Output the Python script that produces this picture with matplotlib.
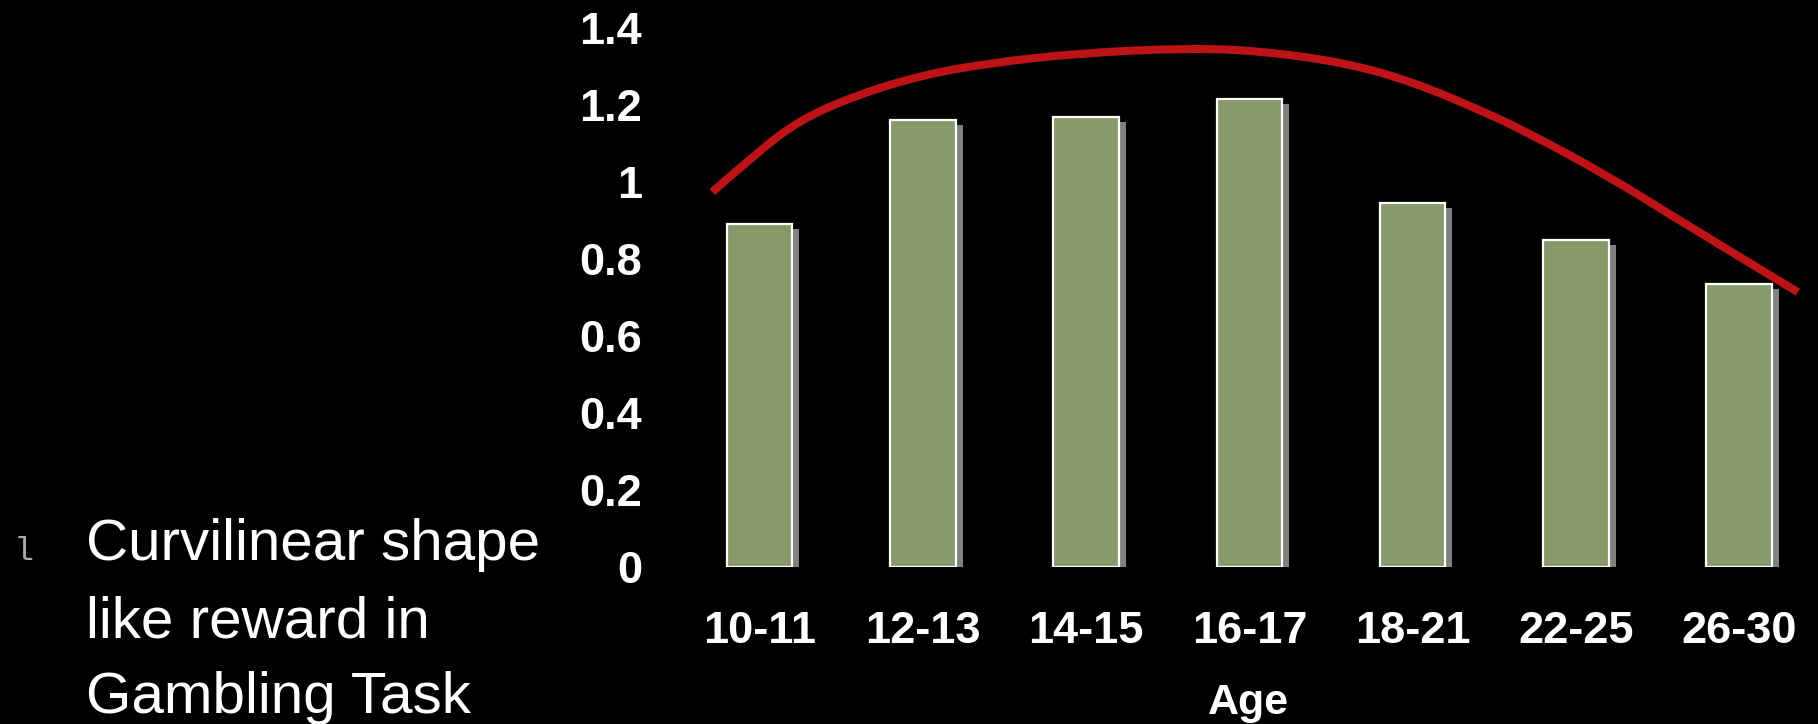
import matplotlib
matplotlib.use("Agg")
import matplotlib.pyplot as plt
import matplotlib.transforms as mtransforms
from matplotlib.path import Path
from matplotlib.patches import PathPatch
import numpy as np

# mean score per age group
age_groups = ['10-11', '12-13', '14-15', '16-17', '18-21', '22-25', '26-30']
scores = [0.89, 1.16, 1.17, 1.215, 0.945, 0.85, 0.735]

# hand-drawn trend curve, (category position, value)
curve_x = [-0.29, -0.02, 0.245, 0.594, 0.999, 1.409, 1.961, 2.635,
           3.082, 3.597, 4.001, 4.412, 4.675, 5.19, 5.699, 6.36]
curve_y = [0.974, 1.075, 1.161, 1.226, 1.278, 1.309, 1.335, 1.348,
           1.34, 1.309, 1.26, 1.187, 1.135, 1.018, 0.883, 0.714]

yticks = [0, 0.2, 0.4, 0.6, 0.8, 1, 1.2, 1.4]
ytick_labels = ['0', '0.2', '0.4', '0.6', '0.8', '1', '1.2', '1.4']

note_lines = ['Curvilinear shape', 'like reward in', 'Gambling Task']

W, H = 1818, 724
fig = plt.figure(figsize=(W / 100, H / 100), dpi=100, facecolor='black')
ax = fig.add_axes([678 / W, (H - 567) / H, (W - 678) / W, (567 - 28) / H])
ax.set_facecolor('black')

x = np.arange(len(age_groups))

# drop shadow behind each bar
shadow = mtransforms.ScaledTranslation(7 / 100, -5 / 100, fig.dpi_scale_trans)
ax.bar(x, scores, width=0.4, color='#808080', linewidth=0,
       transform=ax.transData + shadow, zorder=1)
ax.bar(x, scores, width=0.4, color='#87996A', edgecolor='white',
       linewidth=1.6, zorder=2)

# smooth the curve: sample points act as quadratic bezier control points
pts = np.column_stack([curve_x, curve_y])
verts = [pts[0]]
codes = [Path.MOVETO]
for i in range(1, len(pts) - 1):
    verts += [pts[i], (pts[i] + pts[i + 1]) / 2 if i < len(pts) - 2 else pts[i + 1]]
    codes += [Path.CURVE3, Path.CURVE3]
ax.add_patch(PathPatch(Path(verts, codes), fill=False, edgecolor='#BD1316',
                       linewidth=5.8, capstyle='butt', zorder=3, clip_on=False))

ax.set_xlim(-0.5, 6.483)
ax.set_ylim(0, 1.4)
for s in ax.spines.values():
    s.set_visible(False)

tick_font = dict(family='Liberation Sans', weight='bold', size=32.5)
ax.set_xticks(x)
ax.set_xticklabels(age_groups, color='white', fontdict=tick_font)
ax.set_yticks(yticks)
ax.set_yticklabels(ytick_labels, color='white', fontdict=tick_font)
ax.tick_params(axis='both', length=0)
ax.tick_params(axis='y', pad=26)
ax.tick_params(axis='x', pad=32)
ax.set_xlabel('Age', color='white', family='Liberation Sans',
              weight='bold', size=31, labelpad=22)

# bullet text on the left
fig.text(14 / W, 1 - 560 / H, 'l', color='#A8A8A8', family='Liberation Mono',
         size=24, va='baseline', ha='left')
baselines = [560, 637, 713]
for line, b in zip(note_lines, baselines):
    fig.text(86 / W, 1 - b / H, line, color='white', family='Liberation Sans',
             size=42, va='baseline', ha='left')

fig.savefig('out.png', dpi=100, facecolor='black')
